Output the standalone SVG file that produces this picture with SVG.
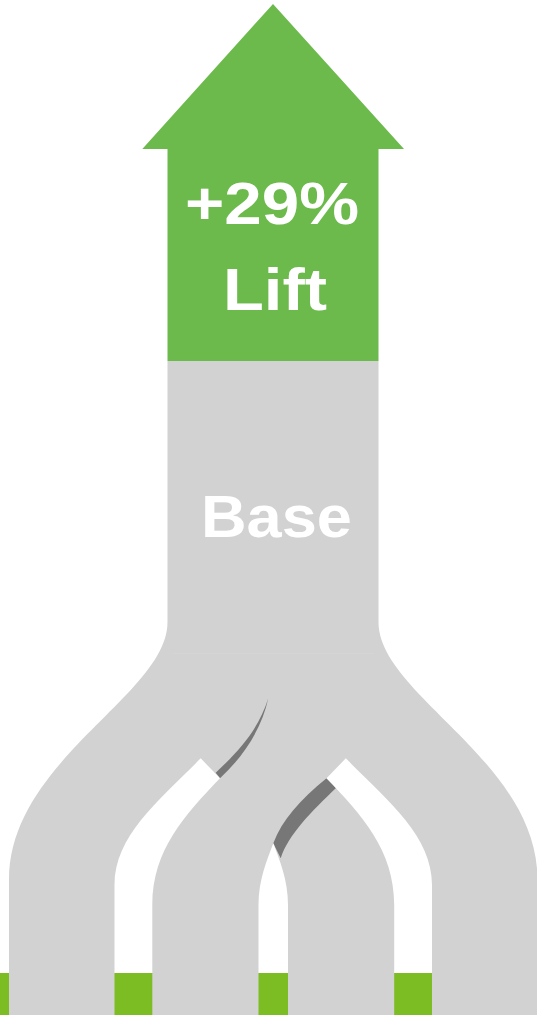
<svg xmlns="http://www.w3.org/2000/svg" width="537" height="1015" viewBox="0 0 537 1015">
  <style>
    .gray { fill: #d2d2d2; }
    .white { fill: #ffffff; }
    .shadow { fill: #777777; }
    .bar { fill: #7bbd22; }
    .lift { fill: #6cba4c; }
    .label { font-family: "Liberation Sans", Arial, sans-serif; font-weight: 700; font-size: 59px; fill: #ffffff; }
  </style>
  <rect width="537" height="1015" fill="#ffffff"/>

  <g id="base">
    <path class="gray" d="M167.5,361 L167.5,622 C167.5,695 9,760 9,880 L9,1015 L537.5,1015 L537.5,880 C537.5,760 378.5,695 378.5,622 L378.5,361 Z"/>
    <line x1="173" y1="653.5" x2="374" y2="653.5" stroke="#d5d5d5" stroke-width="1"/>
    <text class="label" x="201" y="536.5" textLength="151" lengthAdjust="spacingAndGlyphs">Base</text>
  </g>

  <g id="connectors">
    <path id="shadow-left" class="shadow" d="M215.7,772.7 C240,750 258,730 268.3,698.3 C262,728 244,756 220,778.3 Z"/>
    <path id="gap-ab" class="white" d="M200.7,758.3 L220,778.3 C185,815 152.3,850 152.3,905 L152.3,973 L114.5,973 L114.5,885 C114.5,835 160,800 200.7,758.3 Z"/>
    <path id="shadow-right" class="shadow" d="M326.5,778.3 L336,788 C312,811 288,835 280.7,858.3 L273.3,843.3 C282,820 300,800 326.5,778.3 Z"/>
    <path id="gap-cd" class="white" d="M345.8,758.3 L326.5,778.3 C361.5,815 394.2,850 394.2,905 L394.2,973 L432,973 L432,885 C432,835 386.5,800 345.8,758.3 Z"/>
    <path id="gap-bc" class="white" d="M258.5,973 L258.5,905 C258.5,880 267,860 273.3,843.3 C279.5,860 288,880 288,905 L288,973 Z"/>
  </g>

  <g id="bars">
    <rect class="bar" x="0" y="973" width="9" height="42"/>
    <rect class="bar" x="114.5" y="973" width="37.8" height="42"/>
    <rect class="bar" x="258.5" y="973" width="29.5" height="42"/>
    <rect class="bar" x="394.2" y="973" width="37.8" height="42"/>
  </g>

  <g id="lift">
    <polygon class="lift" points="273,4 404,149 378.5,149 378.5,361 167.5,361 167.5,149 142.3,149"/>
    <text class="label" x="185" y="224" textLength="174" lengthAdjust="spacingAndGlyphs">+29%</text>
    <text class="label" x="223" y="309.5" textLength="104" lengthAdjust="spacingAndGlyphs">Lift</text>
  </g>
</svg>
